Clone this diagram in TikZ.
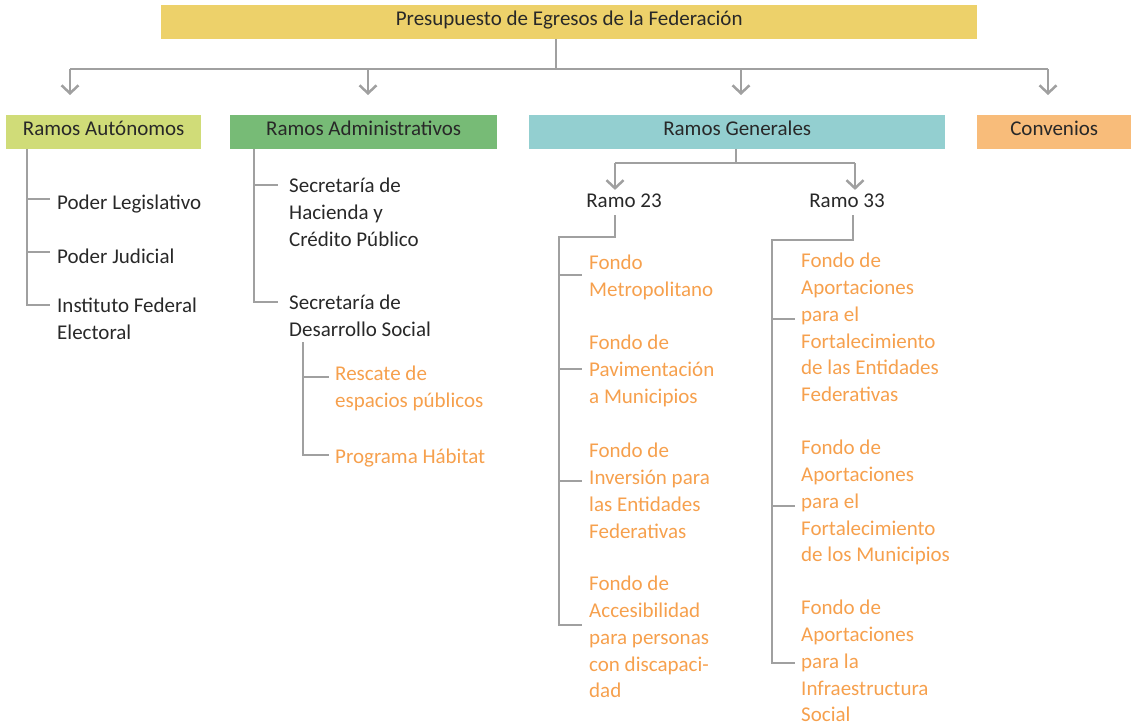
\documentclass[tikz,border=0pt]{standalone}
\usepackage{fontspec}
\setmainfont{Carlito}
\usetikzlibrary{arrows.meta}
\definecolor{topyellow}{RGB}{237,209,106}
\definecolor{autgreen}{RGB}{208,220,120}
\definecolor{admgreen}{RGB}{119,187,118}
\definecolor{genblue}{RGB}{147,207,208}
\definecolor{convorange}{RGB}{248,188,122}
\definecolor{leaforange}{RGB}{246,160,77}
\definecolor{linegray}{RGB}{160,160,160}
\definecolor{textgray}{RGB}{40,40,40}
\begin{document}
\begin{tikzpicture}[x=1pt,y=-1pt,>={Straight Barb[length=8pt,width=17pt]},
  every node/.style={font=\fontsize{21}{26.8}\selectfont,text=textgray,inner sep=0pt},
  head/.style={fill=#1,minimum height=34pt,text height=11pt,text depth=5pt,anchor=north west},
  line/.style={draw=linegray,line width=2.5pt},
  leaf/.style={align=left,anchor=north west,execute at begin node=\strut},
  fondo/.style={leaf,text=leaforange}]
  \useasboundingbox (0,0) rectangle (1131,726);
  % cabeceras
  \node[head=topyellow,minimum width=816pt] (P) at (161,5) {Presupuesto de Egresos de la Federación};
  \node[head=autgreen,minimum width=195pt] (A) at (6,115) {Ramos Autónomos};
  \node[head=admgreen,minimum width=267pt] (B) at (230,115) {Ramos Administrativos};
  \node[head=genblue,minimum width=416pt] (G) at (529,115) {Ramos Generales};
  \node[head=convorange,minimum width=154pt] (C) at (977,115) {Convenios};
  \coordinate (bus) at (0,69);
  \draw[line] (556,0 |- P.south) -- (556,0 |- bus);
  \draw[line] (70,0 |- bus) -- (1048,0 |- bus);
  \foreach \x/\n in {70/A,368/B,741/G,1048/C}
    \draw[line,->,shorten >=20pt] (\x,0 |- bus) -- (\x,0 |- \n.north);

  % Ramos Autonomos
  \foreach \n/\y/\t in {PL/198/{Poder Legislativo},PJ/252/{Poder Judicial},IF/305/{Instituto Federal\\Electoral}}
    \node[leaf] (\n) at (57,\y-7) {\t};
  \foreach \n/\y in {PL/199,PJ/252}
    \draw[line,shorten >=7pt] (27,\y) -- (\n.west |- 0,\y);
  \draw[line,shorten >=7pt] (27,0 |- A.south) |- (IF.west |- 0,305);

  % Ramos Administrativos
  \node[leaf] (SH) at (289,185-7) {Secretaría de\\Hacienda y\\Crédito Público};
  \node[leaf] (SD) at (289,302-7) {Secretaría de\\Desarrollo Social};
  \draw[line,shorten >=11pt] (254,185) -- (SH.west |- 0,185);
  \draw[line,shorten >=11pt] (254,0 |- B.south) |- (SD.west |- 0,302);
  \node[fondo] (RE) at (335,373-7) {Rescate de\\espacios públicos};
  \node[fondo] (PH) at (335,452-7) {Programa Hábitat};
  \draw[line,shorten >=6pt] (303,377) -- (RE.west |- 0,377);
  \draw[line,shorten >=6pt] (303,342) |- (PH.west |- 0,455);

  % Ramos Generales
  \node (R23) at (624,201) {Ramo 23};
  \node (R33) at (847,201) {Ramo 33};
  \coordinate (bus2) at (0,163);
  \draw[line] (736,0 |- G.south) -- (736,0 |- bus2);
  \draw[line] (615,0 |- bus2) -- (855,0 |- bus2);
  \draw[line,->,shorten >=4pt] (615,0 |- bus2) -- (615,0 |- R23.north);
  \draw[line,->,shorten >=4pt] (855,0 |- bus2) -- (855,0 |- R33.north);

  % Ramo 23
  \foreach \n/\y/\t in {FM/262/{Fondo\\Metropolitano},FP/342/{Fondo de\\Pavimentación\\a Municipios},
      FI/450/{Fondo de\\Inversión para\\las Entidades\\Federativas},
      FA/583/{Fondo de\\Accesibilidad\\para personas\\con discapaci-\\dad}}
    \node[fondo] (\n) at (589,\y-7) {\t};
  \foreach \n/\y in {FM/275,FP/369,FI/481}
    \draw[line,shorten >=7pt] (559,\y) -- (\n.west |- 0,\y);
  \draw[line,shorten <=7pt,shorten >=7pt] (615,0 |- R23.south) |- (559,237) |- (FA.west |- 0,625);

  % Ramo 33
  \foreach \n/\y/\t in {FE/260/{Fondo de\\Aportaciones\\para el\\Fortalecimiento\\de las Entidades\\Federativas},
      FMu/447/{Fondo de\\Aportaciones\\para el\\Fortalecimiento\\de los Municipios},
      FS/607/{Fondo de\\Aportaciones\\para la\\Infraestructura\\Social}}
    \node[fondo] (\n) at (801,\y-7) {\t};
  \foreach \n/\y in {FE/319,FMu/506}
    \draw[line,shorten >=6pt] (772,\y) -- (\n.west |- 0,\y);
  \draw[line,shorten <=7pt,shorten >=6pt] (853,0 |- R33.south) |- (772,240) |- (FS.west |- 0,663);
\end{tikzpicture}
\end{document}
